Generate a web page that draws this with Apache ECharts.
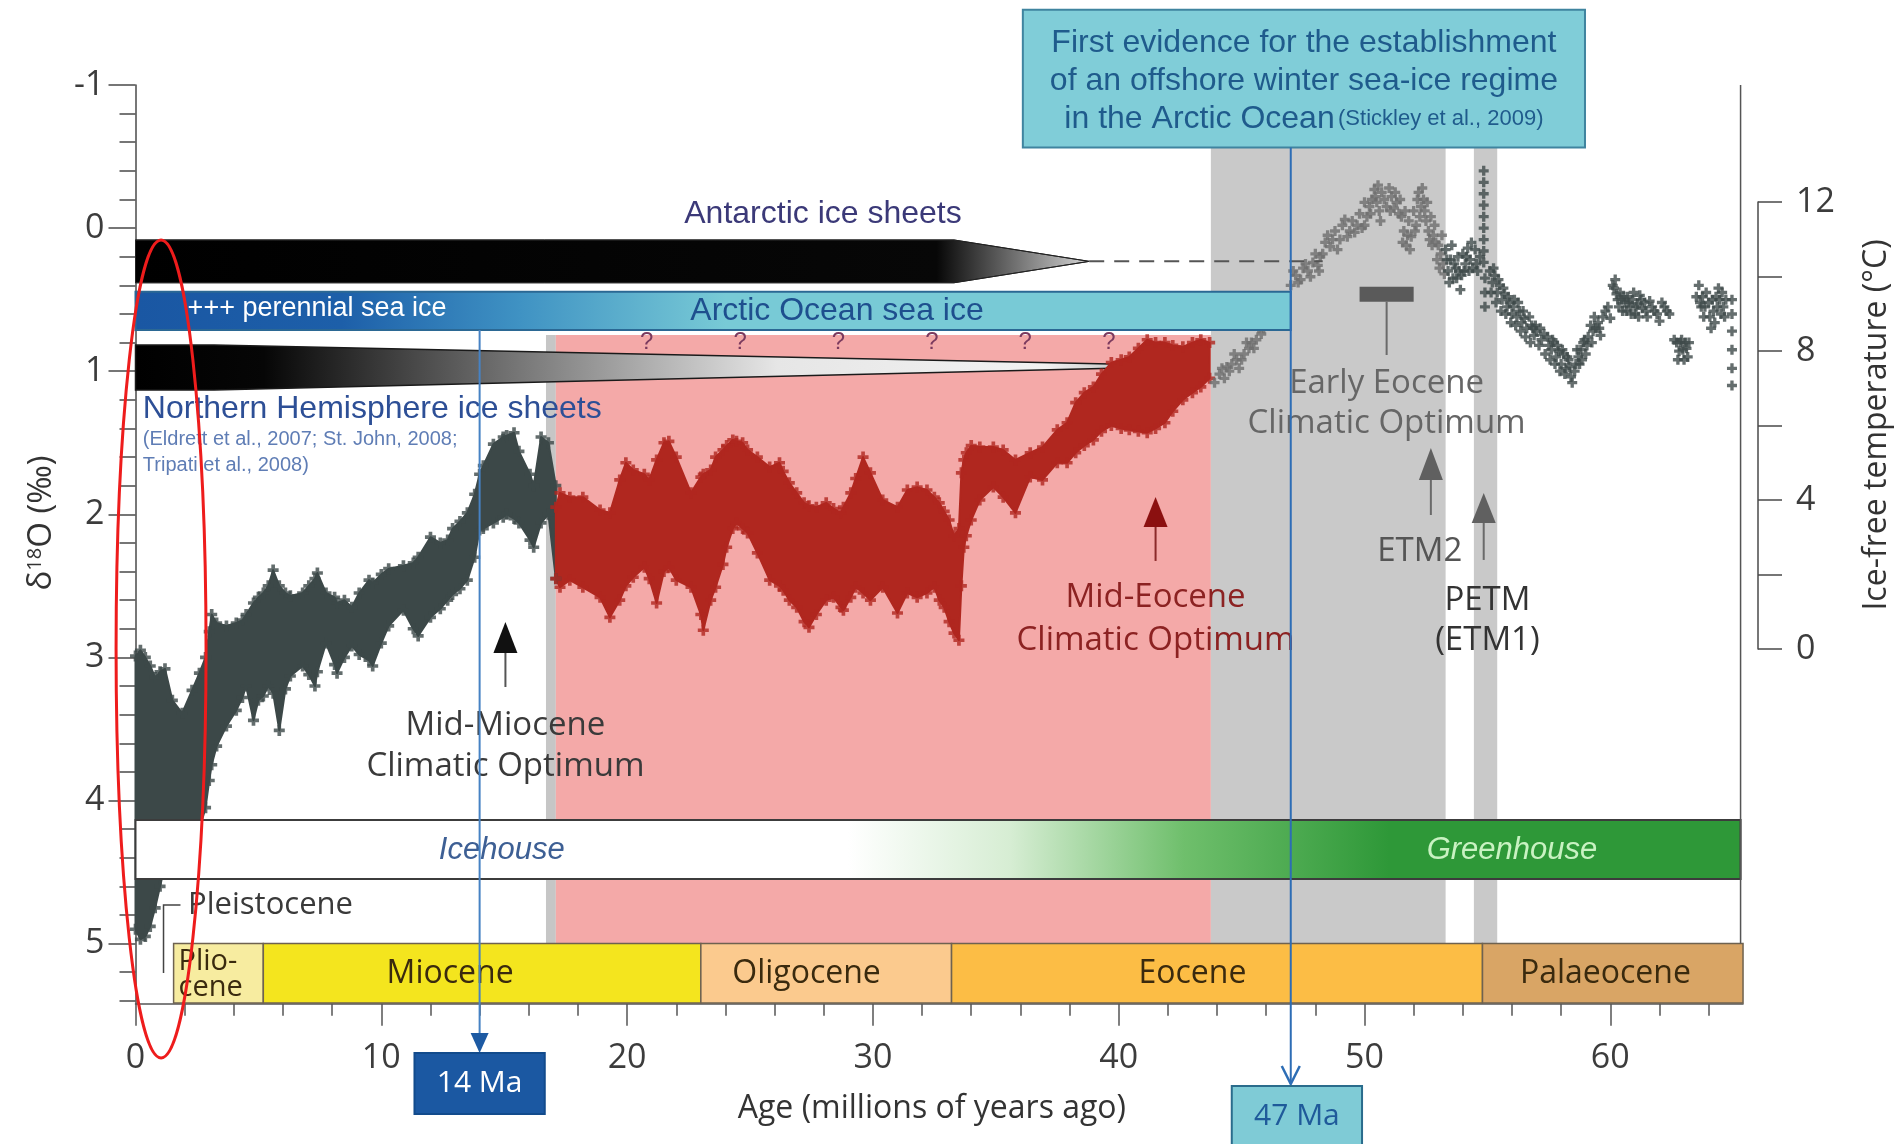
<!DOCTYPE html>
<html>
<head>
<meta charset="utf-8">
<title>Cenozoic δ18O record and polar ice</title>
<script src="https://cdn.jsdelivr.net/npm/echarts@6/dist/echarts.min.js"></script>
<style>
  html, body { margin: 0; padding: 0; background: #ffffff; }
  #chart { width: 1897px; height: 1144px; }
</style>
</head>
<body>
<div id="chart"></div>
<script>
// ---------------------------------------------------------------------------
// Data
// ---------------------------------------------------------------------------

// Neogene benthic δ18O scatter, outer envelope (age in Ma, lightest and heaviest values, ‰)
const neogeneAge = [0, 0.2, 0.4, 0.6, 0.8, 1.0, 1.2, 1.5, 1.9, 2.3, 2.6, 2.85, 3.0, 3.1, 3.3, 3.7, 4.1, 4.35, 4.5, 4.8,
  5.0, 5.2, 5.4, 5.6, 5.85, 6.1, 6.3, 6.8, 7.05, 7.3, 7.4, 7.75, 8.1, 8.2, 8.5, 8.8, 9.1, 9.5, 9.65, 10.0,
  10.3, 10.9, 11.3, 11.5, 12.0, 12.4, 12.7, 12.9, 13.2, 13.5, 13.8, 14.0, 14.15, 14.56, 14.96, 15.1, 15.4, 15.6, 16.05, 16.2,
  16.5, 16.8, 17.1];
const neogeneLight = [2.99, 2.95, 3.00, 3.06, 3.14, 3.10, 3.08, 3.30, 3.39, 3.23, 3.11, 3.00, 2.82, 2.70, 2.76, 2.78, 2.76, 2.74, 2.70, 2.62,
  2.58, 2.55, 2.50, 2.39, 2.50, 2.55, 2.57, 2.55, 2.50, 2.45, 2.41, 2.55, 2.58, 2.62, 2.60, 2.65, 2.55, 2.46, 2.48, 2.42,
  2.38, 2.36, 2.34, 2.30, 2.16, 2.20, 2.18, 2.10, 2.05, 1.99, 1.86, 1.72, 1.66, 1.51, 1.46, 1.45, 1.43, 1.56, 1.72, 1.80,
  1.46, 1.50, 1.80];
const neogeneHeavy = [4.90, 4.97, 4.95, 4.88, 4.75, 4.60, 4.45, 4.35, 4.30, 4.25, 4.20, 4.05, 3.86, 3.75, 3.62, 3.48, 3.37, 3.28, 3.20, 3.44,
  3.30, 3.27, 3.20, 3.25, 3.51, 3.22, 3.13, 3.06, 3.12, 3.20, 3.10, 2.90, 3.05, 3.11, 3.00, 2.92, 2.98, 3.02, 3.06, 2.90,
  2.78, 2.67, 2.80, 2.85, 2.72, 2.66, 2.60, 2.56, 2.52, 2.46, 2.30, 2.11, 2.10, 2.06, 2.02, 2.00, 2.03, 2.06, 2.18, 2.23,
  2.06, 2.00, 2.45];

// Oligocene to middle Eocene δ18O scatter, outer envelope (Ma, lightest, heaviest)
const paleogeneAge = [17.1, 17.27, 17.67, 18.2, 18.9, 19.3, 19.7, 19.95, 20.25, 20.7, 20.9, 21.2, 21.5, 21.7, 22.0, 22.6, 23.0, 23.1, 23.4, 23.6,
  23.9, 24.05, 24.3, 24.45, 24.7, 24.9, 25.3, 25.8, 26.2, 26.35, 26.6, 26.9, 27.2, 27.4, 27.7, 28.1, 28.4, 28.7, 28.8, 29.1,
  29.3, 29.6, 29.9, 30.4, 31.0, 31.4, 31.8, 32.2, 32.5, 32.7, 32.9, 33.1, 33.3, 33.5, 33.6, 33.7, 33.8, 34.0, 34.35, 34.9,
  35.3, 35.8, 36.4, 36.9, 37.5, 37.9, 38.25, 38.6, 38.97, 39.3, 39.7, 40.1, 40.43, 40.8, 41.16, 41.5, 41.88, 42.2, 42.61, 43.0,
  43.34, 43.7];
const paleogeneLight = [1.95, 1.85, 1.88, 1.88, 1.97, 1.99, 1.76, 1.64, 1.69, 1.72, 1.76, 1.62, 1.50, 1.49, 1.60, 1.85, 1.74, 1.72, 1.69, 1.60,
  1.55, 1.52, 1.48, 1.49, 1.50, 1.55, 1.60, 1.67, 1.64, 1.70, 1.78, 1.85, 1.92, 1.94, 1.95, 1.92, 1.96, 1.99, 1.95, 1.85,
  1.75, 1.60, 1.71, 1.90, 1.95, 1.83, 1.81, 1.83, 1.88, 1.92, 1.98, 2.04, 2.15, 2.10, 1.71, 1.62, 1.57, 1.52, 1.53, 1.53,
  1.55, 1.62, 1.57, 1.53, 1.41, 1.36, 1.22, 1.15, 1.11, 1.02, 0.94, 0.92, 0.90, 0.84, 0.78, 0.80, 0.80, 0.82, 0.83, 0.80,
  0.78, 0.80];
const paleogeneHeavy = [2.45, 2.51, 2.46, 2.51, 2.58, 2.72, 2.60, 2.50, 2.44, 2.37, 2.45, 2.62, 2.40, 2.37, 2.46, 2.51, 2.70, 2.81, 2.60, 2.51,
  2.35, 2.23, 2.10, 2.06, 2.10, 2.13, 2.27, 2.46, 2.50, 2.53, 2.60, 2.65, 2.75, 2.79, 2.70, 2.60, 2.58, 2.65, 2.67, 2.58,
  2.51, 2.55, 2.60, 2.51, 2.69, 2.55, 2.58, 2.55, 2.51, 2.60, 2.65, 2.75, 2.83, 2.88, 2.50, 2.23, 2.15, 2.04, 1.90, 1.81,
  1.88, 1.99, 1.74, 1.76, 1.64, 1.64, 1.57, 1.52, 1.48, 1.42, 1.38, 1.40, 1.41, 1.42, 1.43, 1.40, 1.36, 1.28, 1.20, 1.15,
  1.11, 1.05];

// Early Eocene and Palaeocene δ18O measurements [age Ma, δ18O ‰]
const earlyPoints = [
  [43.9, 1.08], [44.1, 1.02], [44.2, 0.98], [44.3, 1.05], [44.4, 0.97], [44.5, 1.00], [44.6, 0.95], [44.7, 0.88],
  [44.8, 0.92], [44.9, 0.98], [45.0, 0.92], [45.1, 0.88], [45.2, 0.80], [45.3, 0.84], [45.4, 0.80], [45.5, 0.84],
  [45.6, 0.78], [45.7, 0.70], [45.8, 0.74], [45.9, 0.70], [46.2, 0.62], [46.5, 0.55], [46.8, 0.48],
  [47.0, 0.40], [47.1, 0.30], [47.2, 0.33], [47.3, 0.38], [47.4, 0.36], [47.5, 0.28], [47.6, 0.25], [47.7, 0.30],
  [47.8, 0.34], [47.9, 0.24], [48.0, 0.18], [48.1, 0.26], [48.15, 0.30], [48.2, 0.20], [48.3, 0.18],
  [48.4, 0.10], [48.5, 0.05], [48.6, 0.13], [48.7, 0.08], [48.8, 0.02], [48.9, 0.15], [49.0, 0.08], [49.1, -0.02],
  [49.2, -0.06], [49.3, 0.06], [49.4, 0.02], [49.5, -0.05], [49.6, 0.03], [49.7, -0.02], [49.8, -0.10], [49.9, 0.00],
  [50.0, -0.18], [50.0, -0.02], [50.1, -0.08], [50.2, -0.15], [50.25, -0.10], [50.3, -0.20], [50.4, -0.27], [50.45, -0.22],
  [50.5, -0.18], [50.55, -0.30], [50.6, -0.12], [50.65, -0.05], [50.7, -0.25], [50.8, -0.20], [50.9, -0.15],
  [51.0, -0.28], [51.05, -0.12], [51.1, -0.22], [51.2, -0.14], [51.25, -0.25], [51.3, -0.18], [51.4, -0.10], [51.45, -0.20],
  [51.5, -0.08], [51.55, 0.10], [51.6, 0.02], [51.65, -0.12], [51.7, 0.12], [51.75, 0.05], [51.8, -0.05], [51.85, 0.15],
  [51.9, 0.06], [52.0, -0.12], [52.05, 0.02], [52.1, -0.02], [52.15, -0.20], [52.2, -0.25], [52.25, -0.08], [52.3, -0.15],
  [52.35, -0.28], [52.4, -0.20], [52.45, -0.12], [52.5, -0.05], [52.55, -0.18], [52.6, 0.02], [52.65, 0.08], [52.7, -0.08],
  [52.75, 0.12], [52.8, 0.05], [52.85, -0.02], [52.9, 0.10], [52.95, 0.22],
  [53.0, 0.12], [53.05, 0.28], [53.1, 0.18], [53.15, 0.05], [53.2, 0.25], [53.25, 0.32], [53.3, 0.15], [53.35, 0.22],
  [53.4, 0.30], [53.45, 0.38], [53.5, 0.22], [53.55, 0.12], [53.6, 0.35], [53.65, 0.25], [53.7, 0.28], [53.75, 0.35],
  [53.8, 0.20], [53.85, 0.30], [53.9, 0.43], [53.95, 0.33],
  [54.0, 0.18], [54.05, 0.30], [54.1, 0.25], [54.15, 0.20], [54.2, 0.14], [54.25, 0.30], [54.3, 0.22], [54.35, 0.10],
  [54.4, 0.28], [54.5, 0.15], [54.55, 0.25], [54.6, 0.30], [54.7, 0.20],
  [54.85, -0.40], [54.85, -0.32], [54.85, -0.24], [54.85, -0.16], [54.85, -0.08], [54.85, 0.00], [54.85, 0.08],
  [54.85, 0.16], [54.85, 0.24], [54.9, 0.35], [54.9, 0.45], [54.9, 0.55],
  [55.1, 0.30], [55.15, 0.45], [55.2, 0.38], [55.25, 0.28], [55.3, 0.33], [55.35, 0.52], [55.4, 0.45], [55.45, 0.36],
  [55.5, 0.40], [55.55, 0.58], [55.6, 0.50], [55.65, 0.42], [55.7, 0.46], [55.75, 0.60], [55.8, 0.55], [55.85, 0.48],
  [55.9, 0.52], [55.95, 0.66], [56.0, 0.60], [56.05, 0.55], [56.1, 0.50], [56.15, 0.68], [56.2, 0.62], [56.25, 0.52],
  [56.3, 0.58], [56.35, 0.72], [56.4, 0.66], [56.45, 0.58], [56.5, 0.63], [56.55, 0.76], [56.6, 0.70], [56.7, 0.62],
  [56.75, 0.80], [56.8, 0.68], [56.85, 0.70], [56.9, 0.75], [56.95, 0.68], [57.0, 0.72], [57.1, 0.82], [57.15, 0.70],
  [57.2, 0.78], [57.3, 0.74], [57.35, 0.88], [57.45, 0.76], [57.5, 0.82], [57.55, 0.92], [57.6, 0.85], [57.65, 0.78],
  [57.7, 0.80], [57.75, 0.95], [57.8, 0.90], [57.85, 0.82], [57.9, 0.86], [57.95, 1.00], [58.0, 0.95], [58.05, 0.85],
  [58.1, 0.88], [58.15, 1.02], [58.2, 0.98], [58.25, 0.90], [58.3, 0.92], [58.35, 0.97], [58.4, 1.04], [58.45, 1.08],
  [58.55, 1.00], [58.6, 0.95], [58.65, 0.85], [58.7, 0.90], [58.75, 0.95], [58.8, 0.85], [58.85, 0.92], [58.9, 0.80],
  [58.95, 0.78], [59.0, 0.88], [59.05, 0.82], [59.1, 0.76], [59.2, 0.68], [59.25, 0.80], [59.3, 0.72], [59.35, 0.62],
  [59.4, 0.70], [59.5, 0.66], [59.55, 0.70], [59.6, 0.75], [59.7, 0.62], [59.8, 0.58], [59.9, 0.55], [60.0, 0.63],
  [60.1, 0.40], [60.15, 0.42], [60.2, 0.36], [60.25, 0.46], [60.3, 0.50], [60.35, 0.55], [60.4, 0.45], [60.45, 0.50],
  [60.5, 0.58], [60.55, 0.48], [60.6, 0.52], [60.65, 0.58], [60.7, 0.48], [60.75, 0.52], [60.8, 0.55], [60.85, 0.60],
  [60.9, 0.50], [60.95, 0.45], [61.0, 0.60], [61.05, 0.55], [61.1, 0.53], [61.15, 0.62], [61.2, 0.47], [61.25, 0.50],
  [61.3, 0.56], [61.4, 0.52], [61.45, 0.58], [61.5, 0.62], [61.6, 0.51], [61.7, 0.55], [61.8, 0.58], [61.9, 0.60],
  [62.0, 0.65], [62.1, 0.52], [62.2, 0.55], [62.3, 0.58], [62.4, 0.60], [62.6, 0.78], [62.7, 0.80], [62.75, 0.92],
  [62.8, 0.86], [62.85, 0.80], [62.9, 0.78], [62.95, 0.85], [63.0, 0.92], [63.05, 0.80], [63.1, 0.84], [63.15, 0.90],
  [63.2, 0.80], [63.5, 0.48], [63.6, 0.40], [63.65, 0.52], [63.7, 0.55], [63.75, 0.48], [63.8, 0.62], [63.85, 0.55],
  [63.9, 0.45], [64.0, 0.52], [64.05, 0.62], [64.1, 0.70], [64.15, 0.50], [64.2, 0.58], [64.25, 0.66], [64.3, 0.48],
  [64.35, 0.55], [64.4, 0.42], [64.45, 0.50], [64.5, 0.60], [64.55, 0.45], [64.6, 0.55], [64.65, 0.62], [64.7, 0.50],
  [64.95, 0.50], [64.95, 0.60], [64.95, 0.72], [64.95, 0.85], [64.95, 0.98], [64.95, 1.10]
];

// Geological epochs (Ma)
const epochNames = ['Plio-\ncene', 'Miocene', 'Oligocene', 'Eocene', 'Palaeocene'];
const epochStart = [1.55, 5.2, 23.0, 33.2, 54.8];
const epochEnd = [5.2, 23.0, 33.2, 54.8, 65.4];

// Highlighted intervals (Ma): boundary strip, warm Oligocene-Eocene interval, EECO and PETM bands
const shadeStart = [16.7, 17.1, 43.75, 54.45];
const shadeEnd = [17.1, 43.75, 53.3, 55.4];
const shadeKind = ['edge', 'warm', 'grey', 'grey'];

// Ice extent through time (Ma)
const antarcticSpan = [0, 33.3, 38.8, 48.3];   // full, tapered-out end, dashed uncertain limit
const arcticSeaIceSpan = [0, 47];
const northernIceSpan = [0, 3.2, 43.5];        // full, tapered-out end

// Dated markers (Ma)
const markerAges = [14, 47];
const markerLabels = ['14 Ma', '47 Ma'];

// Climatic events (Ma)
const eventAges = [15.05, 41.5, 52.7, 54.85];
const eeco = [49.8, 52.0];

// Axis ticks
const ageMajor = [0, 10, 20, 30, 40, 50, 60];
const ageMinor = [2, 4, 6, 8, 12, 14, 16, 18, 22, 24, 26, 28, 32, 34, 36, 38, 42, 44, 46, 48, 52, 54, 56, 58, 62, 64];
const d18oMajor = [-1, 0, 1, 2, 3, 4, 5];
const d18oMinor = [];
for (let k = -4; k <= 31; k++) { if (k % 5 !== 0) d18oMinor.push(Math.round(k * 2) / 10); }
const tempTicks = [0, 2, 4, 6, 8, 10, 12];
const tempLabels = [0, 4, 8, 12];

// ---------------------------------------------------------------------------
// Layout and styling
// ---------------------------------------------------------------------------
const X_MAX = 65.4, Y_MIN = -1, Y_MAX = 5.42;
const PX_PER_MA = 24.58, PX_PER_PERMIL = 143.1;
const PLOT_LEFT = 135.5, PLOT_TOP = 85;
const FONT_HUM = '"Open Sans", "Noto Sans", sans-serif';
const FONT_HEL = '"Liberation Sans", Arial, sans-serif';
const CROSS = 'path://M3,0H6V3H9V6H6V9H3V6H0V3H3Z';

// vertical extents of the bands (δ18O axis units)
const ANT_TOP = 0.083, ANT_BOT = 0.382;
const ARC_TOP = 0.444, ARC_BOT = 0.712;
const NH_TOP = 0.817, NH_BOT = 1.131, NH_TIP = 0.964;
const HOUSE_TOP = 4.136, HOUSE_BOT = 4.549;
const EPOCH_TOP = 5.0, EPOCH_BOT = 5.415;
const SHADE_TOP = { edge: 0.747, warm: 0.747, grey: -0.56 };
const SHADE_FILL = { edge: '#c6c6c6', warm: '#f4a9a8', grey: '#c9c9c9' };
const EPOCH_FILL = ['#f7eca0', '#f4e51e', '#fbca8e', '#fcbd45', '#d9a565'];
const EPOCH_LABEL_AGE = [1.75, 12.8, 27.3, 43.0, 59.8];

const chart = echarts.init(document.getElementById('chart'), null, { renderer: 'canvas', width: 1897, height: 1144 });

const LG = (x0, x1, stops) => new echarts.graphic.LinearGradient(x0, 0, x1, 0, stops, true);

function bandRenderer(ages, light, heavy, color) {
  return function (params, api) {
    const pts = [];
    for (let i = 0; i < ages.length; i++) pts.push(api.coord([ages[i], light[i]]));
    for (let i = ages.length - 1; i >= 0; i--) pts.push(api.coord([ages[i], heavy[i]]));
    return { type: 'polygon', shape: { points: pts }, style: { fill: color, stroke: color, lineWidth: 2, lineJoin: 'round' } };
  };
}

function envelopePoints(ages, light, heavy) {
  const out = [];
  ages.forEach((a, i) => { out.push([a, light[i]]); out.push([a, heavy[i]]); });
  return out;
}

const axisText = { fontFamily: FONT_HUM, fontSize: 34, color: '#3c3c3c' };

const option = {
  animation: false,
  backgroundColor: '#ffffff',
  grid: [
    { left: PLOT_LEFT, top: PLOT_TOP, width: X_MAX * PX_PER_MA, height: (Y_MAX - Y_MIN) * PX_PER_PERMIL },
    { left: 1757, top: 202, width: 1, height: 447 }
  ],
  xAxis: [
    { gridIndex: 0, type: 'value', min: 0, max: X_MAX, position: 'bottom',
      axisLine: { show: true, onZero: false, lineStyle: { color: '#555555', width: 1.5 } },
      axisTick: { show: true, length: 22, customValues: ageMajor, lineStyle: { color: '#555555', width: 1.5 } },
      axisLabel: Object.assign({ customValues: ageMajor, margin: 38 }, axisText),
      splitLine: { show: false } },
    { gridIndex: 0, type: 'value', min: 0, max: X_MAX, position: 'bottom',
      axisLine: { show: false, onZero: false },
      axisTick: { show: true, length: 12, customValues: ageMinor, lineStyle: { color: '#555555', width: 1.5 } },
      axisLabel: { show: false }, splitLine: { show: false } },
    { gridIndex: 1, type: 'value', min: 0, max: 1, show: false, axisLine: { onZero: false } }
  ],
  yAxis: [
    { gridIndex: 0, type: 'value', inverse: true, min: Y_MIN, max: Y_MAX, position: 'left',
      axisLine: { show: true, onZero: false, lineStyle: { color: '#4a4a4a', width: 1.5 } },
      axisTick: { show: true, length: 27, customValues: d18oMajor, lineStyle: { color: '#4a4a4a', width: 1.5 } },
      axisLabel: Object.assign({ customValues: d18oMajor, margin: 31 }, axisText),
      splitLine: { show: false } },
    { gridIndex: 0, type: 'value', inverse: true, min: Y_MIN, max: Y_MAX, position: 'left',
      axisLine: { show: false, onZero: false },
      axisTick: { show: true, length: 16, customValues: d18oMinor, lineStyle: { color: '#4a4a4a', width: 1.5 } },
      axisLabel: { show: false }, splitLine: { show: false } },
    { gridIndex: 1, type: 'value', min: 0, max: 12, position: 'right',
      axisLine: { show: true, onZero: false, lineStyle: { color: '#4a4a4a', width: 1.5 } },
      axisTick: { show: true, length: 24, customValues: tempTicks, lineStyle: { color: '#4a4a4a', width: 1.5 } },
      axisLabel: Object.assign({ customValues: tempLabels, margin: 38 }, axisText),
      splitLine: { show: false } }
  ],
  series: [
    // highlighted intervals
    { type: 'custom', z: 1, silent: true, coordinateSystem: 'cartesian2d', xAxisIndex: 0, yAxisIndex: 0,
      data: shadeStart.map((s, i) => [i, 0]),
      renderItem(params, api) {
        const i = params.dataIndex, k = shadeKind[i];
        const a = api.coord([shadeStart[i], SHADE_TOP[k]]), b = api.coord([shadeEnd[i], EPOCH_TOP]);
        return { type: 'rect', shape: { x: a[0], y: a[1], width: b[0] - a[0], height: b[1] - a[1] }, style: { fill: SHADE_FILL[k] } };
      } },
    // Northern Hemisphere ice sheets wedge
    { type: 'custom', z: 2, silent: true, xAxisIndex: 0, yAxisIndex: 0, data: [[0, 0]],
      renderItem(params, api) {
        const [n0, n1, nTip] = northernIceSpan;
        const c = (x, v) => api.coord([x, v]);
        const pts = [c(n0, NH_TOP), c(n1, NH_TOP), c(nTip, NH_TIP), c(n1, NH_BOT), c(n0, NH_BOT)];
        const x0 = c(n0, 0)[0], x1 = c(nTip, 0)[0];
        return { type: 'polygon', shape: { points: pts },
          style: { fill: LG(x0, x1, [{ offset: 0, color: '#000' }, { offset: 0.12, color: '#060606' }, { offset: 0.4, color: '#8a8a8a' },
            { offset: 0.6, color: '#e6e6e6' }, { offset: 0.85, color: '#f2f2f2' }, { offset: 1, color: '#9a9a9a' }]),
            stroke: '#1a1a1a', lineWidth: 1.5 } };
      } },
    // δ18O envelopes
    { type: 'custom', z: 3, silent: true, xAxisIndex: 0, yAxisIndex: 0, data: [[0, 0]],
      renderItem: bandRenderer(neogeneAge, neogeneLight, neogeneHeavy, '#3c4848') },
    { type: 'custom', z: 3, silent: true, xAxisIndex: 0, yAxisIndex: 0, data: [[0, 0]],
      renderItem: bandRenderer(paleogeneAge, paleogeneLight, paleogeneHeavy, '#b0271f') },
    { type: 'scatter', z: 4, silent: true, symbol: CROSS, symbolSize: 11, clip: false,
      itemStyle: { color: '#3c4848' }, data: envelopePoints(neogeneAge, neogeneLight, neogeneHeavy) },
    { type: 'scatter', z: 4, silent: true, symbol: CROSS, symbolSize: 11, clip: false,
      itemStyle: { color: '#b0271f' }, data: envelopePoints(paleogeneAge, paleogeneLight, paleogeneHeavy) },
    { type: 'scatter', z: 4, silent: true, symbol: CROSS, symbolSize: 10,
      itemStyle: { color: '#6e6e6e' }, data: earlyPoints.filter(p => p[0] < 53.3) },
    { type: 'scatter', z: 4, silent: true, symbol: CROSS, symbolSize: 10,
      itemStyle: { color: '#3e4a4a' }, data: earlyPoints.filter(p => p[0] >= 53.3) },
    // Antarctic ice sheets bar and Arctic sea-ice bar
    { type: 'custom', z: 5, silent: true, xAxisIndex: 0, yAxisIndex: 0, data: [[0, 0]],
      renderItem(params, api) {
        const [a0, a1, aTip, aDash] = antarcticSpan;
        const c = (x, v) => api.coord([x, v]);
        const mid = (ANT_TOP + ANT_BOT) / 2;
        const pts = [c(a0, ANT_TOP), c(a1, ANT_TOP), c(aTip, mid), c(a1, ANT_BOT), c(a0, ANT_BOT)];
        const ax0 = c(a0, 0)[0], ax1 = c(aTip, 0)[0];
        const d0 = c(aTip, mid), d1 = c(aDash, mid);
        const [s0, s1] = arcticSeaIceSpan;
        const r0 = c(s0, ARC_TOP), r1 = c(s1, ARC_BOT);
        const rs = c(0, 0)[0], re = c(24, 0)[0];
        return { type: 'group', children: [
          { type: 'polygon', shape: { points: pts },
            style: { fill: LG(ax0, ax1, [{ offset: 0, color: '#000' }, { offset: 0.84, color: '#070707' }, { offset: 1, color: '#d4d4d4' }]),
              stroke: '#222', lineWidth: 1 } },
          { type: 'line', shape: { x1: d0[0], y1: d0[1], x2: d1[0], y2: d1[1] },
            style: { stroke: '#555', lineWidth: 2, lineDash: [15, 10] } },
          { type: 'rect', shape: { x: r0[0], y: r0[1], width: r1[0] - r0[0], height: r1[1] - r0[1] },
            style: { fill: LG(rs, re, [{ offset: 0, color: '#1a57a3' }, { offset: 0.35, color: '#1d5fa9' },
              { offset: 0.65, color: '#3f92c3' }, { offset: 1, color: '#78cad6' }]), stroke: '#2b6894', lineWidth: 2 } }
        ] };
      } },
    // Icehouse / Greenhouse band
    { type: 'custom', z: 6, silent: true, xAxisIndex: 0, yAxisIndex: 0, data: [[0, 0]],
      renderItem(params, api) {
        const a = api.coord([0, HOUSE_TOP]), b = api.coord([X_MAX - 0.1, HOUSE_BOT]);
        const g0 = api.coord([29, 0])[0], g1 = api.coord([51, 0])[0];
        return { type: 'rect', shape: { x: a[0], y: a[1], width: b[0] - a[0], height: b[1] - a[1] },
          style: { fill: LG(g0, g1, [{ offset: 0, color: '#ffffff' }, { offset: 0.3, color: '#d6edd3' },
            { offset: 0.62, color: '#6fbf6c' }, { offset: 1, color: '#2e9838' }]), stroke: '#3c3c3c', lineWidth: 2 } };
      } },
    // Epoch bar
    { type: 'custom', z: 6, silent: true, xAxisIndex: 0, yAxisIndex: 0, data: epochNames.map((n, i) => [i, 0]),
      renderItem(params, api) {
        const i = params.dataIndex;
        const a = api.coord([epochStart[i], EPOCH_TOP]), b = api.coord([epochEnd[i], EPOCH_BOT]);
        const isPlio = i === 0;
        const lx = api.coord([EPOCH_LABEL_AGE[i], 0])[0];
        return { type: 'group', children: [
          { type: 'rect', shape: { x: a[0], y: a[1], width: b[0] - a[0], height: b[1] - a[1] },
            style: { fill: EPOCH_FILL[i], stroke: '#6e6250', lineWidth: 1.5 } },
          { type: 'text', x: lx, y: (a[1] + b[1]) / 2 + 1,
            style: { text: epochNames[i], fontFamily: FONT_HUM, fontSize: isPlio ? 29 : 32, lineHeight: isPlio ? 26 : 32,
              fill: '#3a2a0e', align: isPlio ? 'left' : 'center', verticalAlign: 'middle' } }
        ] };
      } }
  ]
};

chart.setOption(option);

// ---------------------------------------------------------------------------
// Annotations, placed in data coordinates
// ---------------------------------------------------------------------------
const P = (x, v) => chart.convertToPixel({ xAxisIndex: 0, yAxisIndex: 0 }, [x, v]);
const g = [];
const Z = 60;

function text(x, v, str, style, extra) {
  const p = P(x, v);
  return Object.assign({ type: 'text', x: p[0], y: p[1], z: Z + 2, silent: true,
    style: Object.assign({ text: str, align: 'center', verticalAlign: 'middle' }, style) }, extra || {});
}
function arrow(age, vTip, vBase, vEnd, head, stem) {
  const t = P(age, vTip), b = P(age, vBase), e = P(age, vEnd);
  g.push({ type: 'line', z: Z, silent: true, shape: { x1: b[0], y1: b[1] - 2, x2: e[0], y2: e[1] }, style: { stroke: stem, lineWidth: 2 } });
  g.push({ type: 'polygon', z: Z + 1, silent: true, shape: { points: [[t[0], t[1]], [t[0] - 12, b[1]], [t[0] + 12, b[1]]] }, style: { fill: head } });
}

// ice labels
g.push(text(27.97, -0.099, 'Antarctic ice sheets', { fontFamily: FONT_HEL, fontSize: 32, fill: '#3b3978' }));
g.push(text(28.54, 0.579, 'Arctic Ocean sea ice', { fontFamily: FONT_HEL, fontSize: 32, fill: '#1e4f8e' }));
g.push(text(2.12, 0.565, '+++ perennial sea ice', { fontFamily: FONT_HEL, fontSize: 27, fill: '#ffffff', align: 'left' }));
g.push(text(0.3, 1.264, 'Northern Hemisphere ice sheets', { fontFamily: FONT_HEL, fontSize: 32, fill: '#2d4f96', align: 'left' }));
g.push(text(0.3, 1.474, '(Eldrett et al., 2007; St. John, 2008;', { fontFamily: FONT_HEL, fontSize: 20, fill: '#5f7db5', align: 'left' }));
g.push(text(0.3, 1.662, 'Tripati et al., 2008)', { fontFamily: FONT_HEL, fontSize: 20, fill: '#5f7db5', align: 'left' }));
[20.8, 24.6, 28.6, 32.4, 36.2, 39.6].forEach(a => g.push(text(a, 0.80, '?', { fontFamily: FONT_HEL, fontSize: 24, fill: '#7b3a5e' })));

// Stickley et al. box
(function () {
  const b0 = P(36.1, -1.526), b1 = P(58.97, -0.563);
  g.push({ type: 'rect', z: Z, silent: true, shape: { x: b0[0], y: b0[1], width: b1[0] - b0[0], height: b1[1] - b0[1] },
    style: { fill: '#80cdd8', stroke: '#3f849f', lineWidth: 2 } });
  const cx = (b0[0] + b1[0]) / 2;
  const st = { fontFamily: FONT_HEL, fontSize: 32, fill: '#1f5b8c', align: 'center', verticalAlign: 'middle' };
  g.push({ type: 'text', z: Z + 2, silent: true, x: cx, y: b0[1] + 33, style: Object.assign({ text: 'First evidence for the establishment' }, st) });
  g.push({ type: 'text', z: Z + 2, silent: true, x: cx, y: b0[1] + 71, style: Object.assign({ text: 'of an offshore winter sea-ice regime' }, st) });
  g.push({ type: 'text', z: Z + 2, silent: true, x: cx, y: b0[1] + 109,
    style: { text: '{a|in the Arctic Ocean} {b|(Stickley et al., 2009)}', align: 'center', verticalAlign: 'middle',
      rich: { a: { fontFamily: FONT_HEL, fontSize: 32, fill: '#1f5b8c', color: '#1f5b8c' },
              b: { fontFamily: FONT_HEL, fontSize: 22, fill: '#1f5b8c', color: '#1f5b8c' } } } });
})();

// dated markers with arrows and boxes
(function () {
  // 14 Ma
  const a = markerAges[0];
  const top = P(a, ARC_BOT), tip = P(a, 5.764), base = P(a, 5.625);
  g.push({ type: 'line', z: Z + 3, silent: true, shape: { x1: top[0], y1: top[1], x2: base[0], y2: base[1] }, style: { stroke: '#4682c4', lineWidth: 2 } });
  g.push({ type: 'polygon', z: Z + 3, silent: true, shape: { points: [[tip[0], tip[1]], [tip[0] - 9, base[1]], [tip[0] + 9, base[1]]] }, style: { fill: '#1d5aa3' } });
  const bx0 = P(a - 2.65, 5.764), bx1 = P(a + 2.65, 6.19);
  g.push({ type: 'rect', z: Z + 3, silent: true, shape: { x: bx0[0], y: bx0[1], width: bx1[0] - bx0[0], height: bx1[1] - bx0[1] },
    style: { fill: '#1b58a2', stroke: '#124b8c', lineWidth: 2 } });
  g.push(text(a, 5.98, markerLabels[0], { fontFamily: FONT_HUM, fontSize: 30, fill: '#ffffff' }, { z: Z + 4 }));
  // 47 Ma
  const m = markerAges[1];
  const t2 = P(m, -0.563), tip2 = P(m, 5.981);
  g.push({ type: 'line', z: Z + 3, silent: true, shape: { x1: t2[0], y1: t2[1], x2: tip2[0], y2: tip2[1] }, style: { stroke: '#2d6db5', lineWidth: 2 } });
  g.push({ type: 'polyline', z: Z + 3, silent: true, shape: { points: [[tip2[0] - 9, tip2[1] - 18], [tip2[0], tip2[1]], [tip2[0] + 9, tip2[1] - 18]] },
    style: { stroke: '#2d6db5', lineWidth: 2.5, fill: null } });
  const c0 = P(44.6, 5.995), c1 = P(49.9, 6.414);
  g.push({ type: 'rect', z: Z + 3, silent: true, shape: { x: c0[0], y: c0[1], width: c1[0] - c0[0], height: c1[1] - c0[1] },
    style: { fill: '#7fcbd6', stroke: '#2a6c8c', lineWidth: 2 } });
  g.push(text(47.25, 6.205, markerLabels[1], { fontFamily: FONT_HUM, fontSize: 30, fill: '#1f5a9a' }, { z: Z + 4 }));
})();

// climatic events
arrow(eventAges[0], 2.753, 2.969, 3.207, '#111111', '#555555');
g.push(text(eventAges[0], 3.479, 'Mid-Miocene', { fontFamily: FONT_HUM, fontSize: 33, fill: '#3a3a3a' }));
g.push(text(eventAges[0], 3.766, 'Climatic Optimum', { fontFamily: FONT_HUM, fontSize: 33, fill: '#3a3a3a' }));
arrow(eventAges[1], 1.879, 2.089, 2.326, '#8b1010', '#8b2a2a');
g.push(text(eventAges[1], 2.585, 'Mid-Eocene', { fontFamily: FONT_HUM, fontSize: 33, fill: '#8c2222' }));
g.push(text(eventAges[1], 2.885, 'Climatic Optimum', { fontFamily: FONT_HUM, fontSize: 33, fill: '#8c2222' }));
arrow(eventAges[2], 1.537, 1.760, 2.005, '#606060', '#6a6a6a');
g.push(text(52.25, 2.263, 'ETM2', { fontFamily: FONT_HUM, fontSize: 33, fill: '#555555' }));
arrow(eventAges[3], 1.851, 2.061, 2.319, '#606060', '#6a6a6a');
g.push(text(55.0, 2.606, 'PETM', { fontFamily: FONT_HUM, fontSize: 33, fill: '#333333' }));
g.push(text(55.0, 2.886, '(ETM1)', { fontFamily: FONT_HUM, fontSize: 33, fill: '#333333' }));
(function () {
  const a = P(eeco[0], 0.41), b = P(eeco[1], 0.514);
  const mx = (a[0] + b[0]) / 2, s = P(0, 0.887);
  g.push({ type: 'rect', z: Z, silent: true, shape: { x: a[0], y: a[1], width: b[0] - a[0], height: b[1] - a[1] }, style: { fill: '#5a5a5a' } });
  g.push({ type: 'line', z: Z, silent: true, shape: { x1: mx, y1: b[1], x2: mx, y2: s[1] }, style: { stroke: '#6a6a6a', lineWidth: 2 } });
  g.push(text((eeco[0] + eeco[1]) / 2, 1.086, 'Early Eocene', { fontFamily: FONT_HUM, fontSize: 33, fill: '#666666' }));
  g.push(text((eeco[0] + eeco[1]) / 2, 1.369, 'Climatic Optimum', { fontFamily: FONT_HUM, fontSize: 33, fill: '#666666' }));
})();

// Icehouse / Greenhouse
g.push(text(14.9, 4.35, 'Icehouse', { fontFamily: FONT_HEL, fontSize: 31, fontStyle: 'italic', fill: '#3d5f94' }));
g.push(text(56.0, 4.35, 'Greenhouse', { fontFamily: FONT_HEL, fontSize: 31, fontStyle: 'italic', fill: '#c9f2c2' }));

// Pleistocene bracket
(function () {
  const a = P(1.14, 4.73), b = P(1.14, 5.205), c = P(1.83, 4.73);
  g.push({ type: 'polyline', z: Z, silent: true, shape: { points: [[c[0], c[1]], [a[0], a[1]], [b[0], b[1]]] }, style: { stroke: '#444', lineWidth: 1.5, fill: null } });
  g.push(text(2.14, 4.73, 'Pleistocene', { fontFamily: FONT_HUM, fontSize: 31, fill: '#3a3a3a', align: 'left' }));
})();

// right frame line of the plot
(function () {
  const a = P(65.3, Y_MIN), b = P(65.3, EPOCH_TOP);
  g.push({ type: 'line', z: Z, silent: true, shape: { x1: a[0], y1: a[1], x2: b[0], y2: b[1] }, style: { stroke: '#555', lineWidth: 1.5 } });
})();

// highlight ellipse round the Pleistocene record
(function () {
  const c = P(1.04, 2.941), r = P(1.04 + 1.83, 2.941 + 2.858);
  g.push({ type: 'ellipse', z: Z + 5, silent: true, shape: { cx: c[0], cy: c[1], rx: r[0] - c[0], ry: r[1] - c[1] },
    style: { fill: null, stroke: '#ee1c1c', lineWidth: 3 } });
})();

// axis titles
g.push({ type: 'text', z: Z, silent: true, x: 42, y: 523, rotation: Math.PI / 2,
  style: { text: '{m|δ}{s|18}{m|O (‰)}', align: 'center', verticalAlign: 'middle',
    rich: { m: { fontFamily: FONT_HUM, fontSize: 33, fill: '#333333', color: '#333333' },
            s: { fontFamily: FONT_HUM, fontSize: 20, fill: '#333333', color: '#333333', verticalAlign: 'top', padding: [0, 0, 12, 0] } } } });
g.push({ type: 'text', z: Z, silent: true, x: 1877, y: 425, rotation: Math.PI / 2,
  style: { text: 'Ice-free temperature (°C)', fontFamily: FONT_HUM, fontSize: 32, fill: '#333333', align: 'center', verticalAlign: 'middle' } });
g.push(text(32.4, 6.156, 'Age (millions of years ago)', { fontFamily: FONT_HUM, fontSize: 32, fill: '#333333' }));

chart.setOption({ graphic: { elements: g } });
</script>
</body>
</html>
